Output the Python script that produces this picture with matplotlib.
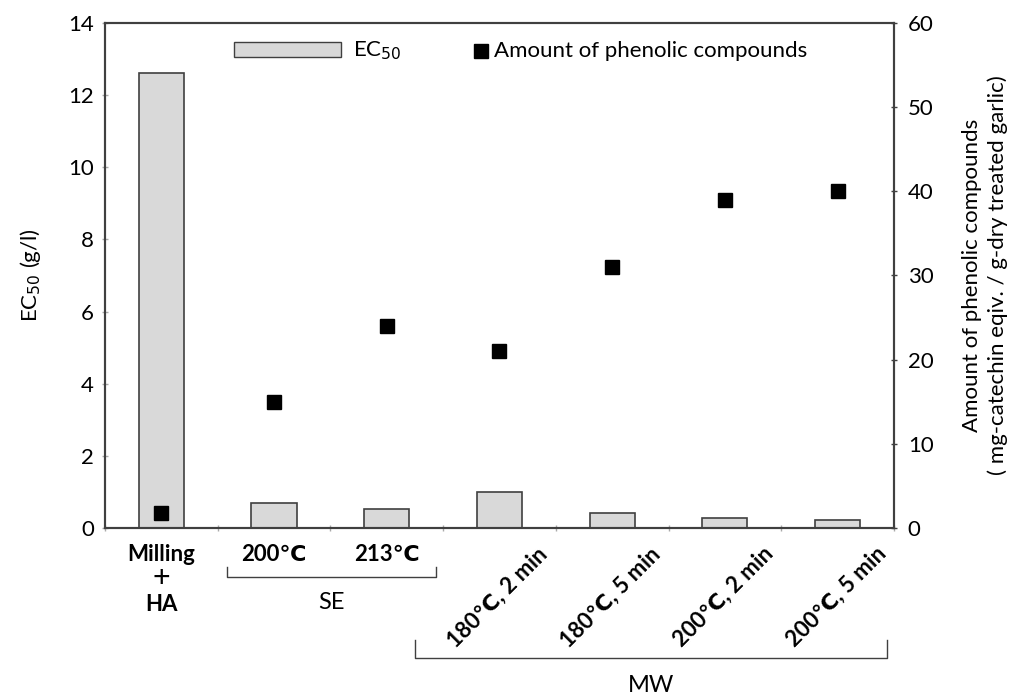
import matplotlib
matplotlib.use("Agg")
import matplotlib.pyplot as plt
import matplotlib.transforms as mtransforms
from matplotlib.patches import Rectangle
from matplotlib.lines import Line2D

# ==============================
# DATOS
# ==============================

categorias = ["Milling\n+\nHA", "200℃", "213℃",
              "180℃, 2 min", "180℃, 5 min", "200℃, 2 min", "200℃, 5 min"]
ec50 = [12.6, 0.70, 0.52, 1.00, 0.42, 0.29, 0.23]
fenoles = [1.8, 15, 24, 21, 31, 39, 40]

grupos = ["SE", "MW"]

plt.rcParams["font.family"] = ["Lato", "DejaVu Sans"]
plt.rcParams["font.size"] = 16

gris = "#404040"

# ==============================
# FIGURA
# ==============================

fig = plt.figure(figsize=(10.31, 6.97), dpi=100)
ax = fig.add_axes([0.1018, 0.2425, 0.7653, 0.7245])
ax2 = ax.twinx()

x = list(range(len(categorias)))

ax.bar(x, ec50, width=0.4, color="#d9d9d9", edgecolor=gris, linewidth=1.2, zorder=2)
ax2.plot(x, fenoles, linestyle="none", marker="s", markersize=9.5,
         color="black", zorder=3)

ax.set_xlim(-0.5, 6.5)
ax.set_ylim(0, 14)
ax2.set_ylim(0, 60)
ax.set_yticks(range(0, 15, 2))
ax2.set_yticks(range(0, 61, 10))

ax.set_xticks([i + 0.5 for i in range(-1, 7)])
ax.set_xticklabels([])

for a in (ax, ax2):
    for s in a.spines.values():
        s.set_color(gris)
        s.set_linewidth(1.5)
ax.tick_params(axis="y", length=4, width=1, color="#aaaaaa", direction="inout", pad=6)
ax2.tick_params(axis="y", length=4, width=1, color=gris, direction="inout", pad=8)
ax.tick_params(axis="x", length=5, width=1, color="#aaaaaa", direction="inout")

ax.set_ylabel("EC$_{50}$ (g/l)", labelpad=18)
ax2.set_ylabel("Amount of phenolic compounds\n( mg-catechin eqiv. / g-dry treated garlic)",
               labelpad=20, linespacing=1.35)

ax.set_zorder(1)
ax2.set_zorder(2)
ax.patch.set_visible(False)

# ==============================
# ETIQUETAS DEL EJE X
# ==============================

tr = mtransforms.blended_transform_factory(ax.transData, ax.transAxes)

ax.text(0, -0.0535, "Milling", transform=tr, ha="center", va="center", fontweight="bold")
ax.text(0, -0.100, "+", transform=tr, ha="center", va="center", fontsize=22)
ax.text(0, -0.152, "HA", transform=tr, ha="center", va="center", fontweight="bold")

for i in (1, 2):
    ax.text(i, -0.0535, categorias[i], transform=tr, ha="center", va="center",
            fontweight="bold")

for i in range(3, 7):
    ax.text(i + 0.40, -0.045, categorias[i], transform=tr, ha="right", va="center",
            rotation=45, rotation_mode="anchor", fontweight="bold")

# corchetes de grupos
def corchete(x0, x1, y_linea, y_punta, etiqueta, y_texto):
    ax.add_line(Line2D([x0, x0, x1, x1], [y_punta, y_linea, y_linea, y_punta],
                       transform=tr, color=gris, linewidth=1, clip_on=False))
    ax.text((x0 + x1) / 2, y_texto, etiqueta, transform=tr, ha="center",
            va="center", fontsize=17)

corchete(0.58, 2.44, -0.097, -0.077, grupos[0], -0.147)
corchete(2.25, 6.44, -0.257, -0.222, grupos[1], -0.311)

# ==============================
# LEYENDA
# ==============================

ax.add_patch(Rectangle((0.163, 0.932), 0.136, 0.03, transform=ax.transAxes,
                       facecolor="#d9d9d9", edgecolor=gris, linewidth=1,
                       clip_on=False, zorder=5))
ax.text(0.315, 0.945, "EC$_{50}$", transform=ax.transAxes, ha="left", va="center")
ax2.plot([0.476], [0.945], transform=ax2.transAxes, marker="s", markersize=9.5,
         color="black", linestyle="none", clip_on=False)
ax2.text(0.493, 0.945, "Amount of phenolic compounds", transform=ax2.transAxes,
         ha="left", va="center")

plt.savefig("out.png", dpi=100)
plt.close()
